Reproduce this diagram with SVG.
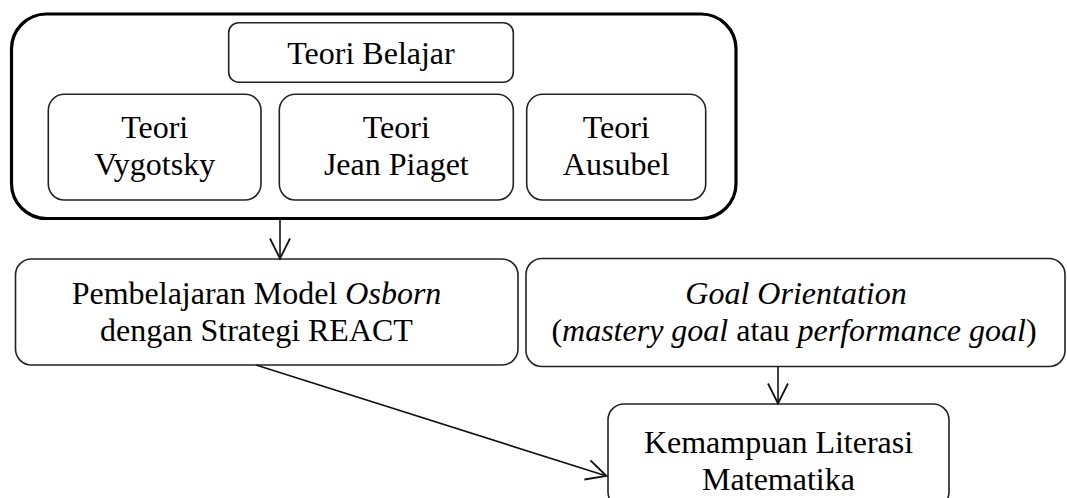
<svg xmlns="http://www.w3.org/2000/svg" width="1067" height="498" viewBox="0 0 1067 498">
  <style>
    .box { fill: #ffffff; stroke: #222; stroke-width: 1.6; }
    .outer { fill: #ffffff; stroke: #000; stroke-width: 3.2; }
    .t { font-family: "Liberation Serif", "Times New Roman", serif; font-size: 32px; fill: #000; text-anchor: middle; }
    .i { font-style: italic; }
    .conn { stroke: #111; stroke-width: 1.6; fill: none; }
  </style>
  <defs>
    <marker id="arrow" markerUnits="userSpaceOnUse" markerWidth="24" markerHeight="24" viewBox="-22 -12 24 24" refX="0" refY="0" orient="auto">
      <path d="M -20 -10 L 0 0 L -20 10" fill="none" stroke="#111" stroke-width="1.8"/>
    </marker>
  </defs>
  <rect width="1067" height="498" fill="#ffffff"/>

  <g id="teori-group">
    <rect class="outer" x="11.5" y="14" width="724.5" height="204.5" rx="35" ry="35"/>
  </g>
  <g id="teori-belajar">
    <rect class="box" x="228.7" y="22.7" width="284.6" height="59.5" rx="10" ry="10"/>
    <text class="t" x="371" y="64">Teori Belajar</text>
  </g>
  <g id="teori-vygotsky">
    <rect class="box" x="48.3" y="94.3" width="212.7" height="105.7" rx="16" ry="16"/>
    <text class="t" x="154.7" y="138">Teori</text>
    <text class="t" x="154.7" y="175">Vygotsky</text>
  </g>
  <g id="teori-piaget">
    <rect class="box" x="279.3" y="94.3" width="234" height="105.7" rx="16" ry="16"/>
    <text class="t" x="396.3" y="138">Teori</text>
    <text class="t" x="396.3" y="175">Jean Piaget</text>
  </g>
  <g id="teori-ausubel">
    <rect class="box" x="526.7" y="94.3" width="179" height="105.7" rx="16" ry="16"/>
    <text class="t" x="616.2" y="138">Teori</text>
    <text class="t" x="616.2" y="175">Ausubel</text>
  </g>
  <g id="pembelajaran">
    <rect class="box" x="15.5" y="259" width="502.5" height="106" rx="16" ry="16"/>
    <text class="t" x="256.5" y="304">Pembelajaran Model <tspan class="i">Osborn</tspan></text>
    <text class="t" x="256.5" y="341">dengan Strategi REACT</text>
  </g>
  <g id="goal-orientation">
    <rect class="box" x="526" y="258.5" width="539" height="108" rx="16" ry="16"/>
    <text class="t i" x="796" y="304">Goal Orientation</text>
    <text class="t" x="794" y="341">(<tspan class="i">mastery goal</tspan> atau <tspan class="i">performance goal</tspan>)</text>
  </g>
  <g id="kemampuan">
    <rect class="box" x="608" y="404" width="341" height="104" rx="16" ry="16"/>
    <text class="t" x="778.5" y="453">Kemampuan Literasi</text>
    <text class="t" x="778.5" y="490">Matematika</text>
  </g>

  <g id="connectors">
    <line class="conn" x1="280" y1="220" x2="280" y2="258.5" marker-end="url(#arrow)"/>
    <line class="conn" x1="778" y1="367" x2="778" y2="403.5" marker-end="url(#arrow)"/>
    <line class="conn" x1="256" y1="365" x2="606.5" y2="476" marker-end="url(#arrow)"/>
  </g>
</svg>
